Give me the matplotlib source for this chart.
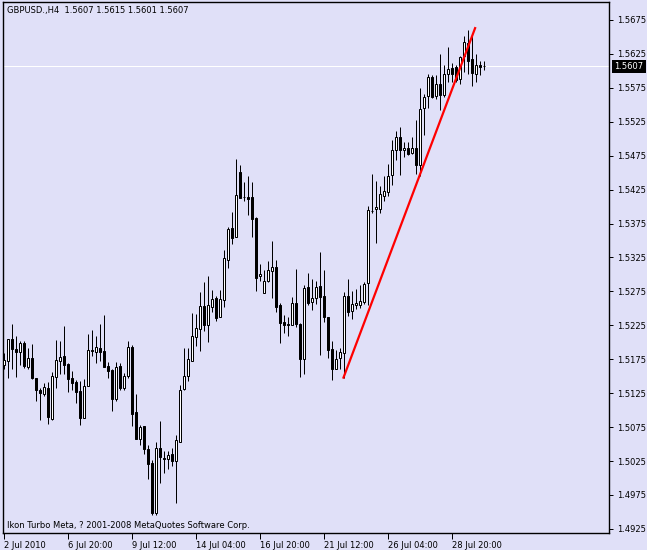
import matplotlib
matplotlib.use('Agg')
import matplotlib.pyplot as plt

# H4 candles, GBPUSD (index 0 = 2 Jul 2010)
opens = [1.5166, 1.5173, 1.5205, 1.5190, 1.5186, 1.5199, 1.5163, 1.5177, 1.5148, 1.5130,
         1.5124, 1.5133, 1.5087, 1.5149, 1.5173, 1.5180, 1.5168, 1.5148, 1.5142, 1.5128,
         1.5089, 1.5136, 1.5187, 1.5185, 1.5191, 1.5187, 1.5165, 1.5159, 1.5116, 1.5165,
         1.5133, 1.5150, 1.5193, 1.5097, 1.5058, 1.5076, 1.5043, 1.5022, 1.4948, 1.5044,
         1.5030, 1.5028, 1.5035, 1.5025, 1.5053, 1.5131, 1.5151, 1.5173, 1.5208, 1.5220,
         1.5253, 1.5226, 1.5252, 1.5265, 1.5238, 1.5263, 1.5322, 1.5368, 1.5355, 1.5451,
         1.5414, 1.5414, 1.5414, 1.5383, 1.5297, 1.5273, 1.5290, 1.5305, 1.5311, 1.5255,
         1.5230, 1.5227, 1.5226, 1.5258, 1.5227, 1.5176, 1.5282, 1.5259, 1.5266, 1.5283,
         1.5268, 1.5237, 1.5190, 1.5161, 1.5177, 1.5184, 1.5268, 1.5246, 1.5255, 1.5255,
         1.5260, 1.5287, 1.5394, 1.5396, 1.5397, 1.5415, 1.5422, 1.5446, 1.5483, 1.5503,
         1.5484, 1.5487, 1.5479, 1.5487, 1.5461, 1.5545, 1.5563, 1.5591, 1.5563, 1.5580,
         1.5564, 1.5596, 1.5604, 1.5605, 1.5588, 1.5622, 1.5641, 1.5617, 1.5596, 1.5608,
         1.5607]
highs = [1.5184, 1.5205, 1.5227, 1.5209, 1.5202, 1.5202, 1.5191, 1.5197, 1.5148, 1.5132,
         1.5140, 1.5142, 1.5156, 1.5204, 1.5202, 1.5224, 1.5169, 1.5158, 1.5145, 1.5143,
         1.5146, 1.5212, 1.5218, 1.5210, 1.5227, 1.5240, 1.5171, 1.5160, 1.5171, 1.5170,
         1.5155, 1.5202, 1.5196, 1.5124, 1.5078, 1.5077, 1.5048, 1.5027, 1.5053, 1.5084,
         1.5040, 1.5040, 1.5044, 1.5063, 1.5137, 1.5191, 1.5191, 1.5243, 1.5242, 1.5274,
         1.5289, 1.5297, 1.5277, 1.5268, 1.5277, 1.5336, 1.5370, 1.5392, 1.5470, 1.5461,
         1.5436, 1.5445, 1.5436, 1.5384, 1.5316, 1.5307, 1.5320, 1.5349, 1.5321, 1.5258,
         1.5240, 1.5237, 1.5267, 1.5308, 1.5228, 1.5285, 1.5302, 1.5293, 1.5291, 1.5333,
         1.5307, 1.5238, 1.5202, 1.5189, 1.5191, 1.5274, 1.5293, 1.5275, 1.5279, 1.5284,
         1.5289, 1.5401, 1.5448, 1.5437, 1.5431, 1.5445, 1.5463, 1.5498, 1.5511, 1.5517,
         1.5495, 1.5495, 1.5503, 1.5528, 1.5575, 1.5566, 1.5596, 1.5594, 1.5594, 1.5625,
         1.5608, 1.5635, 1.5611, 1.5608, 1.5622, 1.5651, 1.5660, 1.5655, 1.5625, 1.5614,
         1.5615]
lows = [1.5161, 1.5147, 1.5161, 1.5149, 1.5166, 1.5162, 1.5161, 1.5146, 1.5114, 1.5086,
        1.5121, 1.5079, 1.5086, 1.5133, 1.5154, 1.5154, 1.5127, 1.5129, 1.5110, 1.5078,
        1.5089, 1.5136, 1.5180, 1.5169, 1.5173, 1.5164, 1.5147, 1.5099, 1.5114, 1.5129,
        1.5130, 1.5147, 1.5077, 1.5058, 1.5048, 1.5035, 1.4999, 1.4946, 1.4946, 1.4992,
        1.5007, 1.5013, 1.5018, 1.4963, 1.5053, 1.5130, 1.5143, 1.5173, 1.5195, 1.5187,
        1.5216, 1.5201, 1.5244, 1.5232, 1.5238, 1.5252, 1.5309, 1.5345, 1.5355, 1.5412,
        1.5408, 1.5388, 1.5355, 1.5276, 1.5291, 1.5273, 1.5289, 1.5265, 1.5245, 1.5199,
        1.5214, 1.5210, 1.5225, 1.5223, 1.5149, 1.5154, 1.5255, 1.5248, 1.5256, 1.5182,
        1.5230, 1.5177, 1.5145, 1.5160, 1.5161, 1.5147, 1.5239, 1.5234, 1.5249, 1.5250,
        1.5256, 1.5255, 1.5390, 1.5346, 1.5391, 1.5408, 1.5415, 1.5432, 1.5469, 1.5447,
        1.5473, 1.5476, 1.5477, 1.5448, 1.5445, 1.5506, 1.5545, 1.5560, 1.5559, 1.5543,
        1.5562, 1.5584, 1.5584, 1.5584, 1.5580, 1.5599, 1.5596, 1.5577, 1.5583, 1.5594,
        1.5601]
closes = [1.5174, 1.5205, 1.5190, 1.5186, 1.5199, 1.5165, 1.5177, 1.5147, 1.5130, 1.5126,
          1.5134, 1.5090, 1.5151, 1.5174, 1.5178, 1.5167, 1.5146, 1.5140, 1.5127, 1.5089,
          1.5135, 1.5188, 1.5188, 1.5193, 1.5186, 1.5164, 1.5158, 1.5117, 1.5164, 1.5132,
          1.5151, 1.5193, 1.5095, 1.5058, 1.5075, 1.5043, 1.5020, 1.4949, 1.5044, 1.5031,
          1.5028, 1.5034, 1.5025, 1.5056, 1.5130, 1.5150, 1.5175, 1.5209, 1.5221, 1.5254,
          1.5226, 1.5255, 1.5264, 1.5236, 1.5264, 1.5324, 1.5367, 1.5354, 1.5417, 1.5413,
          1.5414, 1.5411, 1.5382, 1.5295, 1.5301, 1.5290, 1.5307, 1.5311, 1.5252, 1.5229,
          1.5226, 1.5225, 1.5258, 1.5227, 1.5176, 1.5280, 1.5258, 1.5265, 1.5281, 1.5267,
          1.5238, 1.5188, 1.5160, 1.5176, 1.5185, 1.5268, 1.5245, 1.5257, 1.5258, 1.5261,
          1.5286, 1.5395, 1.5394, 1.5399, 1.5419, 1.5423, 1.5445, 1.5484, 1.5502, 1.5484,
          1.5487, 1.5478, 1.5487, 1.5462, 1.5544, 1.5562, 1.5591, 1.5562, 1.5580, 1.5565,
          1.5596, 1.5603, 1.5596, 1.5586, 1.5620, 1.5642, 1.5615, 1.5597, 1.5608, 1.5606,
          1.5607]

time_ticks = [0, 16, 32, 48, 64, 80, 96, 112]
time_labels = ['2 Jul 2010', '6 Jul 20:00', '9 Jul 12:00', '14 Jul 04:00',
               '16 Jul 20:00', '21 Jul 12:00', '26 Jul 04:00', '28 Jul 20:00']
price_ticks = [1.4925, 1.4975, 1.5025, 1.5075, 1.5125, 1.5175, 1.5225, 1.5275,
               1.5325, 1.5375, 1.5425, 1.5475, 1.5525, 1.5575, 1.5625, 1.5675]

trend_x = [85, 117.9]
trend_y = [1.5148, 1.5663]
last_price = 1.5607

bg = '#e0e0f8'
plt.rcParams['font.family'] = 'DejaVu Sans'
px = 72 / 100  # one pixel in points

fig = plt.figure(figsize=(6.47, 5.5), dpi=100, facecolor=bg)
ax = fig.add_axes([3 / 647, 17 / 550, 606 / 647, 531 / 550], facecolor=bg)

x = list(range(len(opens)))
bottoms = [min(o, c) for o, c in zip(opens, closes)]
heights = [abs(c - o) for o, c in zip(opens, closes)]
fills = ['white' if c >= o else 'black' for o, c in zip(opens, closes)]

ax.axhline(last_price, color='white', lw=px, zorder=1)
ax.vlines(x, lows, highs, colors='black', lw=px, zorder=2)
# 4 px per bar: body path 2 px wide + 1 px stroke -> 3 px outer
ax.bar(x, heights, bottom=bottoms, width=0.5, color=fills, edgecolor='black',
       linewidth=px, zorder=3)
ax.plot(trend_x, trend_y, color='red', lw=1.6, zorder=4)

ax.set_xlim(-0.125, -0.125 + 606 / 4)
ax.set_ylim(1.49190, 1.57015)

ax.set_xticks(time_ticks)
ax.set_xticklabels(time_labels)
plt.setp(ax.get_xticklabels(), ha='left')
ax.set_yticks(price_ticks)
ax.set_yticklabels(['%.4f' % p for p in price_ticks])
ax.yaxis.tick_right()
ax.tick_params(axis='x', direction='out', length=4, width=px, pad=1.5,
               labelsize=6, colors='black')
ax.tick_params(axis='y', direction='out', length=3, width=px, pad=2.5,
               labelsize=6, colors='black')
for s in ax.spines.values():
    s.set_color('black')
    s.set_linewidth(1.0)

ax.annotate('%.4f' % last_price, xy=(1, last_price),
            xycoords=('axes fraction', 'data'), xytext=(4, 0),
            textcoords='offset points', va='center', ha='left', color='white',
            fontsize=6, annotation_clip=False,
            bbox=dict(boxstyle='square,pad=0.25', fc='black', ec='none'))

fig.text(7 / 647, 1 - 10.7 / 550, 'GBPUSD.,H4  1.5607 1.5615 1.5601 1.5607',
         fontsize=6, va='center', ha='left', color='black')
fig.text(7 / 647, 1 - 525 / 550,
         'Ikon Turbo Meta, ? 2001-2008 MetaQuotes Software Corp.',
         fontsize=6, va='center', ha='left', color='black')

fig.savefig('out.png', dpi=100, facecolor=bg)
